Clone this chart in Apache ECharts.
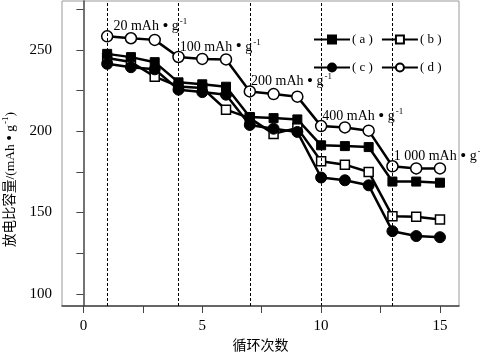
<!DOCTYPE html>
<html>
<head>
<meta charset="utf-8">
<script src="https://cdn.jsdelivr.net/npm/echarts@6/dist/echarts.min.js"></script>
<style>
  html, body { margin: 0; padding: 0; background: #fff; }
  #chart { width: 480px; height: 353px; }
</style>
</head>
<body>
<div id="chart"></div>
<script>
// cycle numbers and capacities
var cycles = [1, 2, 3, 4, 5, 6, 7, 8, 9, 10, 11, 12, 13, 14, 15];
var seriesA = [247.5, 245.5, 242.4, 230.0, 228.8, 227.3, 208.7, 208.0, 207.2, 191.3, 190.8, 190.2, 169.0, 169.0, 168.3];
var seriesB = [245.0, 242.5, 233.5, 227.5, 226.5, 213.2, 208.0, 198.3, 202.0, 181.5, 179.4, 174.9, 147.7, 147.3, 145.7];
var seriesC = [241.4, 239.3, 238.0, 225.5, 224.0, 222.4, 203.8, 201.5, 199.5, 171.5, 169.8, 166.7, 138.5, 135.5, 134.8];
var seriesD = [258.3, 257.1, 256.1, 245.6, 244.4, 244.1, 224.4, 222.8, 221.2, 203.1, 202.3, 200.3, 178.4, 177.1, 177.1];
var rateCycles = [1, 4, 7, 10, 13];
var rateLabels = ['20', '100', '200', '400', '1 000'];
var xTicks = [0, 2.5, 5, 7.5, 10, 12.5, 15];
var xLabels = [0, 5, 10, 15];
var yTicks = [100, 125, 150, 175, 200, 225, 250, 275];
var yLabels = [100, 150, 200, 250];

var SERIF = "'Liberation Serif', 'Times New Roman', 'Noto Sans CJK SC', serif";

/**
 * Pair cycles with values for a value-type x axis.
 * @param {number[]} values
 * @returns {Array}
 */
function pairs(values) {
    return cycles.map(function (c, i) { return [c, values[i]]; });
}

// rich styles shared by the "mAh • g-1" texts
var unitRich = {
    t: { fontFamily: SERIF, fontSize: 14, color: '#000' },
    b: { fontFamily: SERIF, fontSize: 17, color: '#000' },
    s: { fontFamily: SERIF, fontSize: 9, color: '#000', padding: [0, 0, 9, 1] }
};

/**
 * Build the (d) series points, with the current-density labels on the first cycle of each step.
 * @returns {Array}
 */
function labelledD() {
    return cycles.map(function (c, i) {
        var k = rateCycles.indexOf(c);
        if (k < 0) return [c, seriesD[i]];
        return {
            value: [c, seriesD[i]],
            label: {
                show: true,
                position: 'right',
                distance: 0,
                offset: [k === 0 ? 0 : -5, -10],
                formatter: '{t|' + rateLabels[k] + ' mAh }{b|•}{t| g}{s|-1}',
                rich: unitRich
            }
        };
    });
}

var common = {
    type: 'line',
    symbolSize: 10,
    lineStyle: { color: '#000', width: 2.5 },
    z: 3
};

var legendText = { fontFamily: SERIF, fontSize: 13, color: '#000', padding: [0, 0, 0, -3] };

var chart = echarts.init(document.getElementById('chart'));
chart.setOption({
    animation: false,
    backgroundColor: '#fff',
    textStyle: { fontFamily: SERIF },
    grid: {
        left: 62, right: 21, top: 1, bottom: 47,
        containLabel: false,
        outerBoundsMode: 'none',
        show: true, borderColor: '#999', borderWidth: 1
    },
    legend: [
        {
            data: ['( a )', '( b )'],
            left: 308, top: 28,
            itemWidth: 36, itemHeight: 10, itemGap: 8,
            textStyle: legendText
        },
        {
            data: ['( c )', '( d )'],
            left: 308, top: 56,
            itemWidth: 36, itemHeight: 10, itemGap: 8,
            textStyle: legendText
        }
    ],
    xAxis: {
        type: 'value',
        min: -0.9,
        max: 15.8,
        name: '循环次数',
        nameLocation: 'middle',
        nameGap: 33,
        nameTextStyle: { fontFamily: SERIF, fontSize: 14, color: '#000' },
        splitLine: { show: false },
        axisLine: { lineStyle: { color: '#444', width: 1.5 } },
        axisTick: { customValues: xTicks, length: 7, lineStyle: { color: '#444' } },
        axisLabel: { customValues: xLabels, margin: 13, fontSize: 15, color: '#000', fontFamily: SERIF }
    },
    yAxis: {
        type: 'value',
        min: 92.5,
        max: 280,
        name: '放电比容量/(mAh {b|•} g{s|-1})',
        nameLocation: 'middle',
        nameRotate: 90,
        nameGap: 42,
        nameTextStyle: {
            fontFamily: SERIF, fontSize: 13.5, color: '#000',
            padding: [0, 52, 0, 0],
            rich: {
                b: { fontFamily: SERIF, fontSize: 16, color: '#000' },
                s: { fontFamily: SERIF, fontSize: 9, color: '#000', padding: [0, 0, 9, 1] }
            }
        },
        splitLine: { show: false },
        axisLine: { show: true, lineStyle: { color: '#444', width: 1.5 } },
        axisTick: { show: true, customValues: yTicks, length: 7, lineStyle: { color: '#444' } },
        axisLabel: { customValues: yLabels, margin: 10, fontSize: 15, color: '#000', fontFamily: SERIF }
    },
    series: [
        Object.assign({}, common, {
            name: '( b )', data: pairs(seriesB), symbol: 'rect', symbolSize: 9,
            itemStyle: { color: '#fff', borderColor: '#000', borderWidth: 1.5 }
        }),
        Object.assign({}, common, {
            name: '( c )', data: pairs(seriesC), symbol: 'circle', symbolSize: 11,
            itemStyle: { color: '#000', borderColor: '#000', borderWidth: 1 }
        }),
        Object.assign({}, common, {
            name: '( a )', data: pairs(seriesA), symbol: 'rect', symbolSize: 9,
            itemStyle: { color: '#000', borderColor: '#000', borderWidth: 1 },
            markLine: {
                silent: true,
                symbol: 'none',
                label: { show: false },
                lineStyle: { color: '#000', width: 1, type: [3, 2] },
                data: rateCycles.map(function (c) { return { xAxis: c }; })
            }
        }),
        Object.assign({}, common, {
            name: '( d )', data: labelledD(), symbol: 'circle', symbolSize: 11,
            itemStyle: { color: '#fff', borderColor: '#000', borderWidth: 1.5 }
        })
    ]
});
</script>
</body>
</html>
